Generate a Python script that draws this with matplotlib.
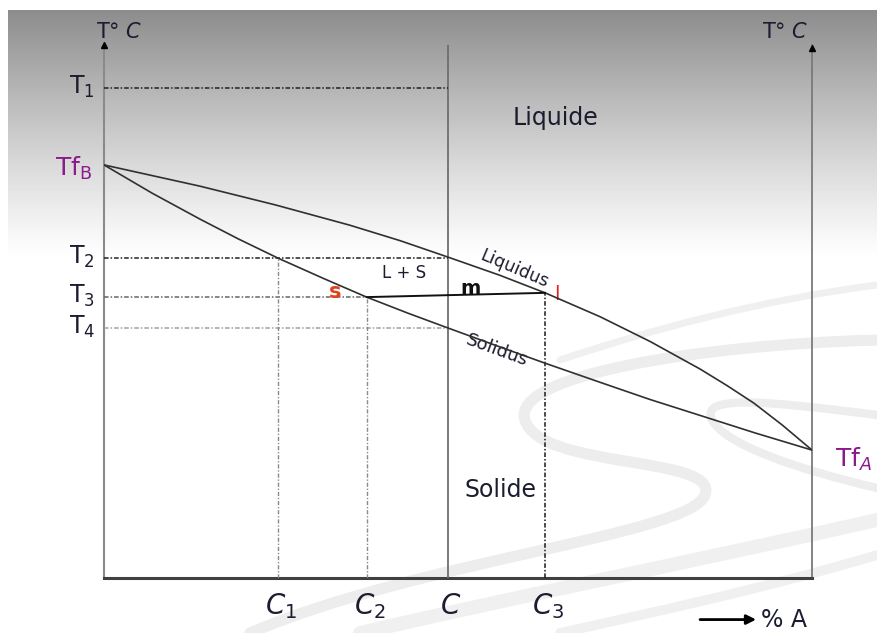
import numpy as np
import matplotlib
matplotlib.use("Agg")
import matplotlib.pyplot as plt
from matplotlib.path import Path
from matplotlib.patches import PathPatch

# ---------------- data (composition % A, temperature in arbitrary units) ----------------
liq_x = [0, 13.6, 24.2, 34.7, 41.8, 48.6, 55.9, 62.3, 70.1, 77.1, 84.2, 88.0, 91.8, 95.8, 100]
liq_T = [77.5, 73.5, 70.0, 66.2, 63.3, 60.2, 56.8, 53.5, 49.0, 44.4, 39.2, 36.1, 32.8, 28.7, 24.0]
sol_x = [0, 6.8, 13.6, 19.0, 24.6, 31.0, 37.1, 42.9, 48.6, 55.4, 62.3, 70.1, 77.1, 84.2, 92.0, 100]
sol_T = [77.5, 72.2, 67.3, 63.6, 60.0, 56.2, 52.7, 49.7, 46.9, 43.6, 40.3, 36.7, 33.5, 30.5, 27.2, 24.0]

T_names = ["T$_1$", "T$_2$", "T$_3$", "T$_4$"]
T_vals = [91.9, 60.0, 52.7, 46.9]
C_names = [r"$\mathit{C}_1$", r"$\mathit{C}_2$", r"$\mathit{C}$", r"$\mathit{C}_3$"]
C_vals = [24.6, 37.1, 48.6, 62.3]
T_liq_C3 = 53.5
TfB = 77.5
TfA = 24.0

W, H = 877, 633
fig = plt.figure(figsize=(W / 100, H / 100), dpi=100)

# ---------------- background (gradient + decorative swirls) ----------------
bg = fig.add_axes([0, 0, 1, 1])
bg.set_xlim(0, W)
bg.set_ylim(H, 0)
bg.axis("off")
rows = np.arange(H)
t = np.clip((rows - 10) / 250.0, 0, 1)
vals = 1 - 0.45 * (1 - t) ** 1.15
vals[:10] = 1.0
img = np.repeat(vals[:, None], W, axis=1)
img[:, :8] = 1.0
bg.imshow(img, cmap="gray", vmin=0, vmax=1, extent=[0, W, H, 0], aspect="auto", zorder=0)

def band(pts, lw, color="#ededed"):
    codes = [Path.MOVETO] + [Path.CURVE4] * (len(pts) - 1)
    bg.add_patch(PathPatch(Path(pts, codes), fill=False, lw=lw, ec=color,
                           capstyle="round", zorder=1))

band([(877, 340), (700, 345), (510, 375), (525, 420),
      (540, 470), (720, 455), (705, 495),
      (690, 535), (420, 560), (250, 633)], 8)
band([(877, 415), (760, 400), (700, 395), (712, 420),
      (725, 445), (800, 470), (877, 488)], 6)
band([(877, 520), (700, 560), (500, 600), (360, 633)], 10, "#f0f0f0")
band([(877, 555), (760, 590), (640, 615), (560, 633)], 7, "#f0f0f0")
band([(560, 360), (650, 330), (760, 300), (877, 285)], 5, "#f0f0f0")

# ---------------- main axes ----------------
ax = fig.add_axes([104 / W, 55 / H, 708 / W, 533 / H])
ax.patch.set_alpha(0)
ax.set_xlim(0, 100)
ax.set_ylim(0, 100)
ax.set_xticks([])
ax.set_yticks([])
ax.spines["top"].set_visible(False)
ax.spines["left"].set_color("#8a8a8a")
ax.spines["left"].set_linewidth(1.5)
ax.spines["right"].set_color("#7a7a7a")
ax.spines["right"].set_linewidth(1.3)
ax.spines["bottom"].set_color("#404040")
ax.spines["bottom"].set_linewidth(2.2)

# arrow heads on the temperature axes
ax.plot([0], [100], marker="^", ms=5, color="black", clip_on=False, zorder=5)
ax.plot([100], [99.5], marker="^", ms=4.5, color="black", clip_on=False, zorder=5)

# vertical line at composition C
ax.plot([C_vals[2], C_vals[2]], [0, 100], color="#6e6e6e", lw=1.3, zorder=3)

# liquidus / solidus
ax.plot(liq_x, liq_T, color="#303030", lw=1.2, zorder=4)
ax.plot(sol_x, sol_T, color="#303030", lw=1.2, zorder=4)

dd = (3, 1.3, 1, 1.3)
# horizontal dash-dot lines
ax.plot([0, C_vals[2]], [T_vals[0]] * 2, color="#222222", lw=1.1, dashes=dd, zorder=3)
ax.plot([0, C_vals[2]], [T_vals[1]] * 2, color="#222222", lw=1.1, dashes=dd, zorder=3)
ax.plot([0, C_vals[1]], [T_vals[2]] * 2, color="#666666", lw=1.1, dashes=dd, zorder=3)
ax.plot([0, C_vals[2]], [T_vals[3]] * 2, color="#a0a0a0", lw=1.1, dashes=dd, zorder=3)
# vertical dash-dot lines
ax.plot([C_vals[0]] * 2, [0, T_vals[1]], color="#8a8a8a", lw=1.0, dashes=dd, zorder=3)
ax.plot([C_vals[1]] * 2, [0, T_vals[2]], color="#8a8a8a", lw=1.0, dashes=dd, zorder=3)
ax.plot([C_vals[3]] * 2, [0, T_liq_C3], color="#1a1a1a", lw=1.1, dashes=dd, zorder=3)
# tie line
ax.plot([C_vals[1], C_vals[3]], [T_vals[2], T_liq_C3], color="#111111", lw=1.4, zorder=4)

txt = "#1c1c30"
# axis titles
ax.text(-1.2, 102.4, r"T° $\mathit{C}$", fontsize=15, color=txt, ha="left", va="center", clip_on=False)
ax.text(93.0, 102.4, r"T° $\mathit{C}$", fontsize=15, color=txt, ha="left", va="center", clip_on=False)

# temperature labels
for name, v in zip(T_names, T_vals):
    ax.text(-1.3, v + 0.3, name, fontsize=17, color=txt, ha="right", va="center", clip_on=False)
ax.text(-1.6, TfB - 0.6, "Tf$_\\mathrm{B}$", fontsize=18, color="#8b1a8b", ha="right", va="center", clip_on=False)
ax.text(103.2, TfA - 1.8, "Tf$_\\mathit{A}$", fontsize=18, color="#8b1a8b", ha="left", va="center", clip_on=False)

# composition labels
for name, v in zip(C_names, C_vals):
    ax.text(v + 0.4, -5.2, name, fontsize=20, color=txt, ha="center", va="center", clip_on=False)

# region labels
ax.text(63.8, 86.3, "Liquide", fontsize=17, color=txt, ha="center", va="center")
ax.text(56.0, 16.6, "Solide", fontsize=17, color=txt, ha="center", va="center")
ax.text(42.4, 57.2, "L + S", fontsize=12, color=txt, ha="center", va="center")
ax.text(51.8, 54.3, "m", fontsize=14, fontweight="bold", color="#111111", ha="center", va="center")
ax.text(32.6, 53.6, "s", fontsize=15, fontweight="bold", color="#e0401a", ha="center", va="center")
ax.text(64.0, 53.2, "l", fontsize=14, color="#e02020", ha="center", va="center")
ax.text(58.0, 58.0, "Liquidus", fontsize=12.5, color=txt, ha="center", va="center", rotation=-23)
ax.text(55.5, 42.8, "Solidus", fontsize=13, color=txt, ha="center", va="center", rotation=-20)

# % A arrow
ax.annotate("", xy=(92.5, -7.8), xytext=(83.8, -7.8),
            arrowprops=dict(arrowstyle="-|>", color="black", lw=2, mutation_scale=14),
            annotation_clip=False)
ax.text(92.8, -7.8, "% A", fontsize=17, color=txt, ha="left", va="center", clip_on=False)

fig.savefig("out.png", dpi=100)
